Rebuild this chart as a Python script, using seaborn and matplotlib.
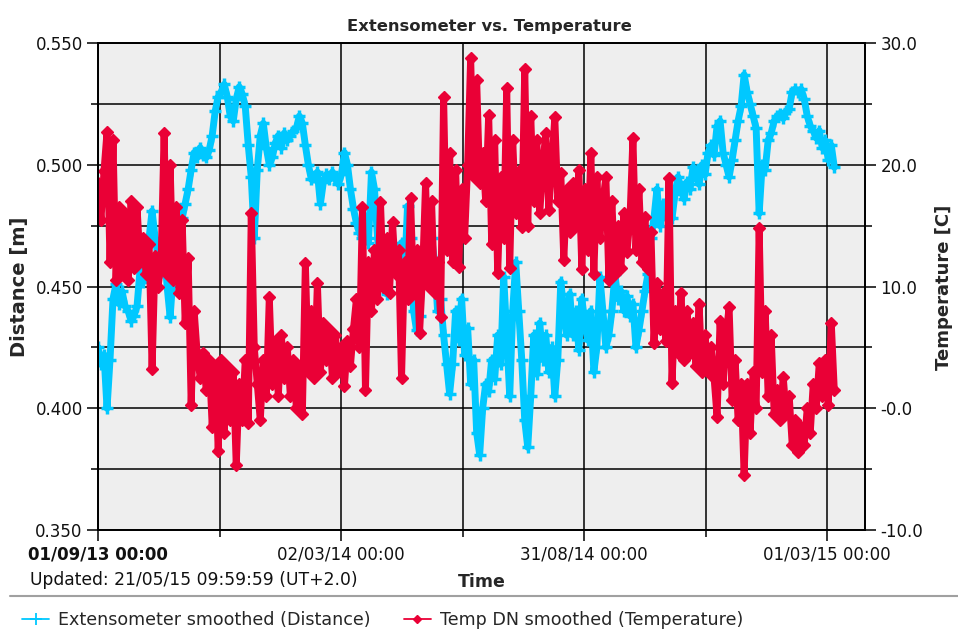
import numpy as np
import pandas as pd
import seaborn as sns
import matplotlib.pyplot as plt
import matplotlib.dates as mdates
from matplotlib.lines import Line2D
from matplotlib.ticker import MultipleLocator

# -----------------------------
# Data (one sample every 54 h from 01/09/13)
# -----------------------------
start = "2013-09-01"
step = "54h"

dist_vals = [
    0.425, 0.418, 0.422, 0.400, 0.420, 0.445, 0.451, 0.443, 0.448, 0.442,
    0.440, 0.436, 0.438, 0.442, 0.457, 0.452, 0.458, 0.470, 0.481, 0.470,
    0.462, 0.456, 0.466, 0.450, 0.4375, 0.455, 0.474, 0.470, 0.478, 0.484,
    0.490, 0.498, 0.505, 0.503, 0.507, 0.504, 0.503, 0.506, 0.512, 0.522,
    0.528, 0.530, 0.533, 0.528, 0.520, 0.518, 0.527, 0.532, 0.529, 0.524,
    0.508, 0.495, 0.470, 0.498, 0.512, 0.517, 0.507, 0.500, 0.503, 0.509,
    0.512, 0.507, 0.513, 0.510, 0.512, 0.514, 0.515, 0.520, 0.517, 0.508,
    0.500, 0.494, 0.495, 0.497, 0.484, 0.493, 0.496, 0.494, 0.497, 0.494,
    0.492, 0.496, 0.505, 0.500, 0.490, 0.482, 0.476, 0.472, 0.470, 0.478,
    0.468, 0.497, 0.490, 0.470, 0.460, 0.452, 0.447, 0.455, 0.462, 0.466,
    0.460, 0.468, 0.455, 0.483, 0.470, 0.440, 0.432, 0.438, 0.455, 0.465,
    0.475, 0.470, 0.460, 0.440, 0.445, 0.430, 0.418, 0.406, 0.418, 0.440,
    0.428, 0.445, 0.422, 0.433, 0.410, 0.420, 0.390, 0.381, 0.400, 0.410,
    0.407, 0.420, 0.412, 0.430, 0.418, 0.454, 0.430, 0.405, 0.440, 0.460,
    0.440, 0.420, 0.395, 0.384, 0.405, 0.430, 0.414, 0.435, 0.420, 0.430,
    0.415, 0.425, 0.405, 0.420, 0.452, 0.440, 0.430, 0.447, 0.430, 0.440,
    0.424, 0.445, 0.435, 0.428, 0.440, 0.415, 0.425, 0.454, 0.440, 0.425,
    0.430, 0.440, 0.455, 0.445, 0.448, 0.440, 0.446, 0.438, 0.443, 0.425,
    0.432, 0.440, 0.448, 0.455, 0.470, 0.478, 0.490, 0.475, 0.484, 0.478,
    0.485, 0.478, 0.488, 0.495, 0.490, 0.486, 0.493, 0.490, 0.499, 0.496,
    0.492, 0.500, 0.496, 0.505, 0.508, 0.504, 0.516, 0.518, 0.505, 0.500,
    0.495, 0.502, 0.510, 0.518, 0.524, 0.537, 0.530, 0.525, 0.520, 0.515,
    0.480, 0.500, 0.498, 0.510, 0.513, 0.518, 0.520, 0.521, 0.519, 0.522,
    0.523, 0.530, 0.531, 0.530, 0.531, 0.527, 0.520, 0.516, 0.514, 0.511,
    0.514, 0.507, 0.510, 0.502, 0.508, 0.499,
]

temp_vals = [
    18.5, 15.5, 19.5, 22.7, 12, 22, 10.5, 16.5, 11, 16,
    10.5, 17, 11.5, 16.5, 12, 14, 11, 13.5, 3.2, 12.5,
    10, 12, 22.6, 11, 20, 10.5, 16.5, 9.5, 15.5, 7,
    12.3, 0.3, 8, 4.5, 2.5, 4.5, 1.5, 4, -1.5, 3.5,
    -3.5, 4, -2, 3.5, -1, 3, -4.7, 2, -1, 4,
    -1.2, 16, 5, 2, -1, 4, 1, 9.1, 2, 5.5,
    1, 6, 2.5, 5, 1, 4, 0, 3.5, -0.5, 11.9,
    3, 8, 2.5, 10.3, 3, 7, 4, 6.5, 2.5, 6,
    3, 5, 1.8, 5.5, 3.5, 6.5, 9, 5, 16.5, 1.5,
    12, 8, 13, 9, 16.9, 10, 14, 9.5, 15.3, 11,
    13, 2.5, 12, 9, 17.3, 9.5, 13, 6.2, 11, 18.5,
    10, 17, 9.5, 12, 7.5, 25.6, 13, 21, 12, 19.6,
    11.6, 18, 14, 20, 28.8, 19, 27, 18.5, 21, 17,
    24.1, 13.5, 22, 11.1, 19, 14, 26.3, 11.5, 22, 16,
    19.5, 14.9, 27.9, 15, 24, 17, 22, 16, 20, 22.6,
    16.3, 20, 23.9, 17, 19.3, 12.2, 18, 14.5, 18.5, 15,
    19.6, 11.4, 18, 13, 21, 11, 19, 14, 17, 19,
    10.5, 17, 11, 15, 11.5, 16, 12.8, 15.5, 22.2, 13,
    18, 12, 15.7, 11.4, 14.5, 5.4, 10.3, 6.5, 9.5, 5.5,
    18.9, 2.1, 8, 4.5, 9.5, 4, 8, 4.5, 7, 3.5,
    8.6, 3, 6, 3, 5, 2.5, -0.7, 7.2, 2, 6,
    8.3, 0.7, 4, -1, 2, -5.5, 2, -2, 3, 0,
    14.8, 3, 8, 1, 6, -0.5, 1.5, -1, 2.6, -0.5,
    1, -3, -1, -3.6, -1.5, -3, 0, -2, 2, 0,
    3.7, 1, 4, 0.3, 7, 1.5,
]

major_dates = ["2013-09-01", "2014-03-02", "2014-08-31", "2015-03-01"]
minor_dates = ["2013-12-01", "2014-06-01", "2014-11-30"]
date_labels = ["01/09/13 00:00", "02/03/14 00:00", "31/08/14 00:00", "01/03/15 00:00"]
dist_ticks = [0.35, 0.40, 0.45, 0.50, 0.55]
dist_labels = ["0.350", "0.400", "0.450", "0.500", "0.550"]
temp_ticks = [-10, 0, 10, 20, 30]
temp_labels = ["-10.0", "-0.0", "10.0", "20.0", "30.0"]

BLUE = "#00C8FF"
RED = "#EA0036"

times = pd.date_range(start, periods=len(dist_vals), freq=step)
df_dist = pd.DataFrame({"Time": times, "Distance": dist_vals})
df_temp = pd.DataFrame({"Time": times, "Temperature": temp_vals})

# -----------------------------
# Plot
# -----------------------------
sns.set_style("white")
plt.rcParams["font.family"] = ["DejaVu Sans"]

fig = plt.figure(figsize=(9.58, 6.32), dpi=100)
ax = fig.add_axes([98 / 958, 102 / 632, 767 / 958, 487 / 632])
ax.set_facecolor("#EEEEEE")
ax2 = ax.twinx()

sns.lineplot(data=df_dist, x="Time", y="Distance", ax=ax, color=BLUE,
             linewidth=5, marker="+", markersize=8,
             markeredgecolor=BLUE, markeredgewidth=2.5, estimator=None)
sns.lineplot(data=df_temp, x="Time", y="Temperature", ax=ax2, color=RED,
             linewidth=5, marker="D", markersize=6,
             markeredgecolor=RED, markeredgewidth=1, estimator=None)

ax.set_xlim(pd.Timestamp("2013-09-01"), pd.Timestamp("2015-03-29 06:00"))
ax.set_ylim(0.35, 0.55)
ax2.set_ylim(-10, 30)

ax.set_xticks(pd.to_datetime(major_dates), labels=date_labels)
ax.set_xticks(pd.to_datetime(minor_dates), minor=True)
ax.get_xticklabels()[0].set_fontweight("bold")
ax.set_yticks(dist_ticks, labels=dist_labels)
ax.yaxis.set_minor_locator(MultipleLocator(0.025))
ax2.set_yticks(temp_ticks, labels=temp_labels)
ax2.yaxis.set_minor_locator(MultipleLocator(5))

ax.grid(which="both", color="black", linewidth=1.1)
ax.set_axisbelow(True)

for a in (ax, ax2):
    a.tick_params(which="major", length=8, width=1.1, color="black",
                  labelsize=12, labelcolor="#111111", direction="out", pad=3)
    a.tick_params(which="minor", length=5, width=1.1, color="black", direction="out")
    for s in a.spines.values():
        s.set_color("black")
        s.set_linewidth(1.3)
ax.tick_params(axis="x", which="both", bottom=True, top=False)
ax.tick_params(axis="y", which="both", left=True, right=False)
ax2.tick_params(axis="y", which="both", right=True, left=False)

ax.set_title("Extensometer vs. Temperature", fontsize=11.8, fontweight="bold",
             pad=9, x=0.51)
ax.set_xlabel("Time", fontsize=12.5, fontweight="bold")
ax.xaxis.set_label_coords(0.5, -0.088)
ax.set_ylabel("Distance [m]", fontsize=14, fontweight="bold")
ax.yaxis.set_label_coords(-0.09, 0.5)
ax2.set_ylabel("")
ax2.set_xlabel("")

fig.text(0.995, 1 - 287 / 632, "Temperature [C]", rotation=90,
         ha="right", va="center", fontsize=13, fontweight="bold")
fig.text(30 / 958, 1 - 580 / 632, "Updated: 21/05/15 09:59:59 (UT+2.0)",
         ha="left", va="center", fontsize=12.3, color="#111111")

fig.add_artist(Line2D([10 / 958, 1], [1 - 596 / 632] * 2,
                      color="#A0A0A0", linewidth=1.5))

handles = [
    Line2D([], [], color=BLUE, marker="+", linewidth=1.3, markersize=8, markeredgewidth=1.3),
    Line2D([], [], color=RED, marker="D", linewidth=1.3, markersize=4),
]
fig.legend(handles, ["Extensometer smoothed (Distance)", "Temp DN smoothed (Temperature)"],
           loc="center left", bbox_to_anchor=(22 / 958, 1 - 620 / 632), ncol=2,
           frameon=False, fontsize=12.6, handlelength=1.55, handletextpad=0.5,
           columnspacing=1.9, borderaxespad=0, borderpad=0)

fig.savefig("out.png", dpi=100)
